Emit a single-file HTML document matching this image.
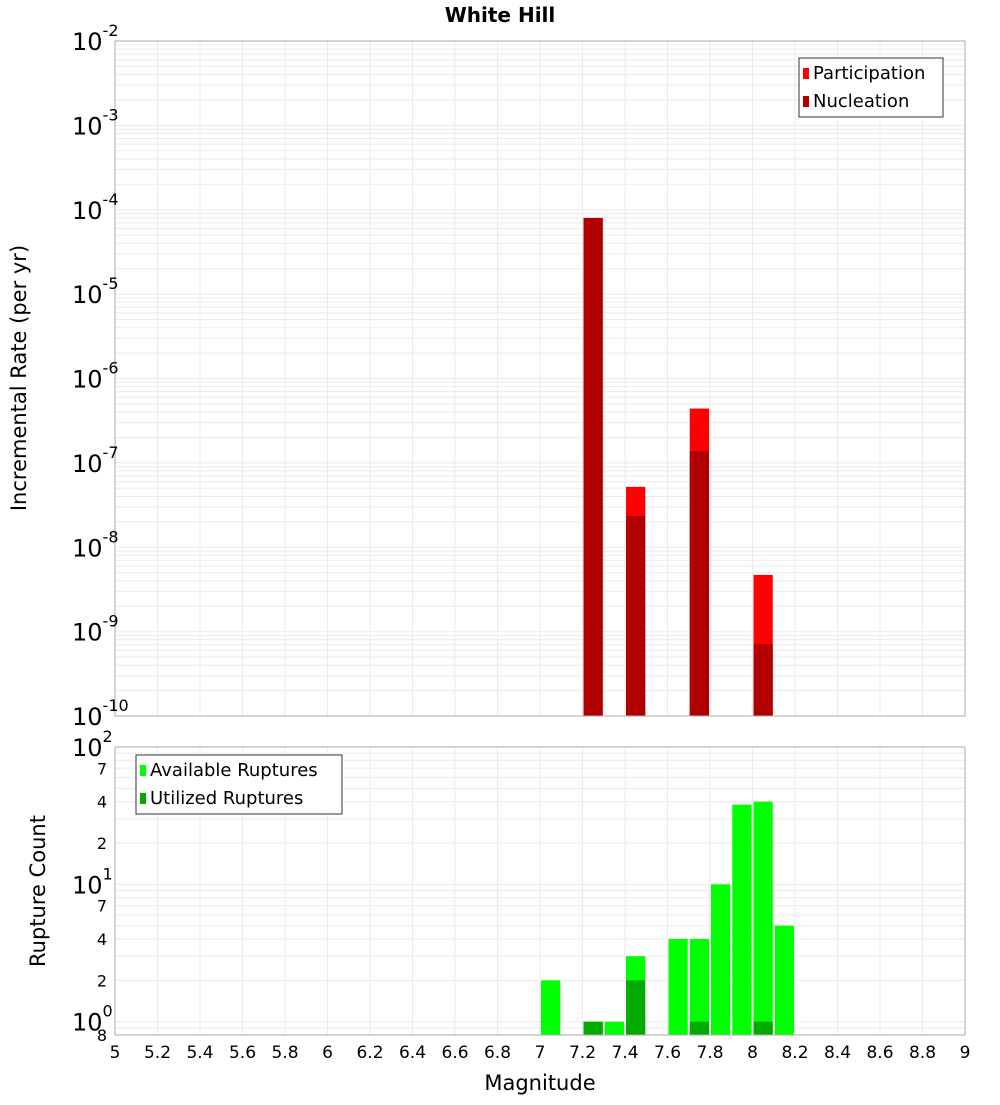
<!DOCTYPE html>
<html><head><meta charset="utf-8"><style>
body{margin:0;background:#fff;}
svg{font-family:"DejaVu Sans","Liberation Sans",sans-serif;}
</style></head><body>
<svg id="c" width="1000" height="1100" xmlns="http://www.w3.org/2000/svg"></svg>
<script>
// Top chart data
const topBins = [7.2, 7.4, 7.7, 8.0];
const participation = [8.0e-5, 5.2e-8, 4.4e-7, 4.7e-9];
const nucleation = [8.0e-5, 2.35e-8, 1.38e-7, 7.1e-10];
// Bottom chart data
const botBins = [7.0, 7.2, 7.3, 7.4, 7.6, 7.7, 7.8, 7.9, 8.0, 8.1];
const available = [2, 1, 1, 3, 4, 4, 10, 38, 40, 5];
const utilized = [0, 1, 0, 2, 0, 1, 0, 0, 1, 0];
const xTicks = ["5","5.2","5.4","5.6","5.8","6","6.2","6.4","6.6","6.8","7","7.2","7.4","7.6","7.8","8","8.2","8.4","8.6","8.8","9"];

const NS="http://www.w3.org/2000/svg";
const svg=document.getElementById('c');
function mk(tag,attrs,parent){const e=document.createElementNS(NS,tag);for(const k in attrs)e.setAttribute(k,attrs[k]);(parent||svg).appendChild(e);return e;}
const X0=115,X1=965;
const x=m=>X0+(m-5)/4*(X1-X0);
const T0=41,T1=716;
const yTop=v=>T0+(-2-Math.log10(v))*(T1-T0)/8;
const B0=747,B1=1035;
const dec=(B1-B0)/(2-Math.log10(0.8));
const yBot=v=>B0+(2-Math.log10(v))*dec;

// grids
function grids(y0,y1,yf,lo,hi,minV){
  for(let i=0;i<=20;i++){const gx=x(5+i*0.2);const l=mk('line',{x1:gx,x2:gx,y1:y0,y2:y1,stroke:'#ebebeb'});}
  for(let d=lo;d<hi;d++){for(let k=1;k<10;k++){const v=k*Math.pow(10,d);if(v<minV)continue;const gy=yf(v);const l=mk('line',{x1:X0,x2:X1,y1:gy,y2:gy,stroke:'#ebebeb'});}}
}
grids(T0,T1,yTop,-10,-2,1e-10);
grids(B0,B1,yBot,-1,2,0.8);

// title
let t=mk('text',{x:500,y:22,'text-anchor':'middle','font-size':20,'font-weight':'bold'});t.textContent='White Hill';


// top bars
const bw=(x(5.1)-x(5))-2;
topBins.forEach((b,i)=>{
  let r=mk('rect',{x:x(b)+1,y:yTop(participation[i]),width:bw,height:T1-yTop(participation[i]),fill:'#ff0000'});
  
  r=mk('rect',{x:x(b)+1,y:yTop(nucleation[i]),width:bw,height:T1-yTop(nucleation[i]),fill:'#b00000'});
  
});
// bottom bars
botBins.forEach((b,i)=>{
  let r=mk('rect',{x:x(b)+1,y:yBot(available[i]),width:bw,height:B1-yBot(available[i]),fill:'#00ff00'});
  
  if(utilized[i]>0){r=mk('rect',{x:x(b)+1,y:yBot(utilized[i]),width:bw,height:B1-yBot(utilized[i]),fill:'#00aa00'});
  }
});

// frames
let f=mk('rect',{x:X0,y:T0,width:X1-X0,height:T1-T0,fill:'none',stroke:'#aaa'});
f=mk('rect',{x:X0,y:B0,width:X1-X0,height:B1-B0,fill:'none',stroke:'#aaa'});

// top y ticks
for(let d=-2;d>=-10;d--){
  const gy=yTop(Math.pow(10,d));
  const g=mk('text',{x:72,y:gy+9,'font-size':24});
  
  g.innerHTML='10<tspan dy="-14" font-size="16">'+d+'</tspan>';
}
// bottom y ticks
const botLabels=[[100,'10','2',true],[70,'7'],[40,'4'],[20,'2'],[10,'10','1',true],[7,'7'],[4,'4'],[2,'2'],[1,'10','0',true],[0.8,'8']];
botLabels.forEach(l=>{
  const gy=yBot(l[0]);
  let g;
  if(l[3]){g=mk('text',{x:72,y:gy+9,'font-size':24});g.innerHTML=l[1]+'<tspan dy="-14" font-size="16">'+l[2]+'</tspan>';}
  else{g=mk('text',{x:107,y:gy+6,'font-size':16,'text-anchor':'end'});g.textContent=l[1];}
  
});
// x ticks
xTicks.forEach(s=>{
  const g=mk('text',{x:x(parseFloat(s)),y:1058,'font-size':17,'text-anchor':'middle'});g.textContent=s;
  
});
// axis titles
t=mk('text',{x:540,y:1090,'font-size':21,'text-anchor':'middle'});t.textContent='Magnitude';
t=mk('text',{x:0,y:0,'font-size':21,'text-anchor':'middle',transform:'translate(26,378) rotate(-90)'});t.textContent='Incremental Rate (per yr)';
t=mk('text',{x:0,y:0,'font-size':21,'text-anchor':'middle',transform:'translate(45,891) rotate(-90)'});t.textContent='Rupture Count';

// legends
function legend(lx,ly,w,items,name){
  const g=mk('g',{});
  mk('rect',{x:lx,y:ly,width:w,height:59,fill:'#fff',stroke:'#333'},g);
  items.forEach((it,i)=>{
    const r=mk('rect',{x:lx+4,y:ly+10+i*28,width:6,height:11,fill:it[1]},g);
    const tx=mk('text',{x:lx+14,y:ly+21+i*28,'font-size':18},g);tx.textContent=it[0];
    
  });
}
legend(799,58,144,[['Participation','#ff0000'],['Nucleation','#b00000']],'top-legend');
legend(136,755,206,[['Available Ruptures','#00ff00'],['Utilized Ruptures','#00aa00']],'bottom-legend');
</script>
</body></html>
